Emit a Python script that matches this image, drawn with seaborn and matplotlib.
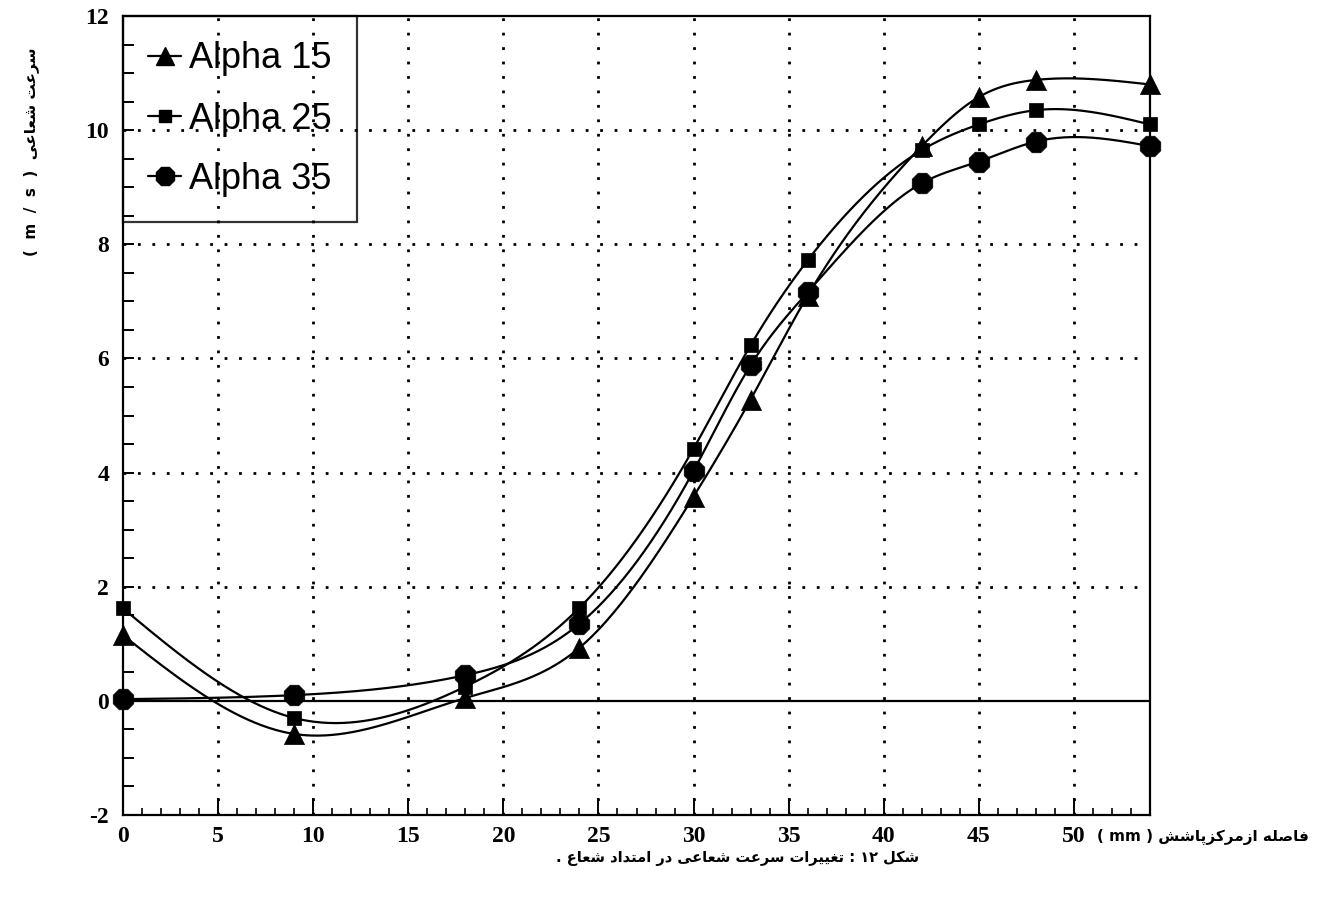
import re
import numpy as np
import pandas as pd
import matplotlib
matplotlib.use("Agg")
import matplotlib.pyplot as plt
import seaborn as sns
from matplotlib.lines import Line2D
from matplotlib.ticker import MultipleLocator
from matplotlib.font_manager import FontProperties

# ---------------- data ----------------
distance_mm = [0, 9, 18, 24, 30, 33, 36, 42, 45, 48, 54]
alpha15 = [1.15, -0.58, 0.05, 0.93, 3.58, 5.28, 7.10, 9.72, 10.58, 10.88, 10.80]
alpha25 = [1.62, -0.30, 0.25, 1.63, 4.42, 6.23, 7.72, 9.65, 10.10, 10.35, 10.10]
alpha35 = [0.03, 0.10, 0.45, 1.35, 4.03, 5.88, 7.16, 9.07, 9.45, 9.80, 9.72]
series_labels = ["Alpha 15", "Alpha 25", "Alpha 35"]
x_ticks = [0, 5, 10, 15, 20, 25, 30, 35, 40, 45, 50]
y_ticks = [-2, 0, 2, 4, 6, 8, 10, 12]

y_label_fa = "سرعت شعاعی"
y_label_unit = "(  m  /  s  )"
x_label_fa = "فاصله ازمرکزپاشش"
x_label_unit = "( mm )"
caption_fa = "شکل ۱۲ : تغییرات سرعت شعاعی در امتداد شعاع ."

# ---------------- minimal Persian shaping (presentation forms, visual order) ----------------
FORMS = {
    "ا": (0xFE8D, 0xFE8E, None, None), "آ": (0xFE81, 0xFE82, None, None),
    "ب": (0xFE8F, 0xFE90, 0xFE91, 0xFE92), "پ": (0xFB56, 0xFB57, 0xFB58, 0xFB59),
    "ت": (0xFE95, 0xFE96, 0xFE97, 0xFE98), "ث": (0xFE99, 0xFE9A, 0xFE9B, 0xFE9C),
    "ج": (0xFE9D, 0xFE9E, 0xFE9F, 0xFEA0), "چ": (0xFB7A, 0xFB7B, 0xFB7C, 0xFB7D),
    "ح": (0xFEA1, 0xFEA2, 0xFEA3, 0xFEA4), "خ": (0xFEA5, 0xFEA6, 0xFEA7, 0xFEA8),
    "د": (0xFEA9, 0xFEAA, None, None), "ذ": (0xFEAB, 0xFEAC, None, None),
    "ر": (0xFEAD, 0xFEAE, None, None), "ز": (0xFEAF, 0xFEB0, None, None),
    "ژ": (0xFB8A, 0xFB8B, None, None),
    "س": (0xFEB1, 0xFEB2, 0xFEB3, 0xFEB4), "ش": (0xFEB5, 0xFEB6, 0xFEB7, 0xFEB8),
    "ص": (0xFEB9, 0xFEBA, 0xFEBB, 0xFEBC), "ض": (0xFEBD, 0xFEBE, 0xFEBF, 0xFEC0),
    "ط": (0xFEC1, 0xFEC2, 0xFEC3, 0xFEC4), "ظ": (0xFEC5, 0xFEC6, 0xFEC7, 0xFEC8),
    "ع": (0xFEC9, 0xFECA, 0xFECB, 0xFECC), "غ": (0xFECD, 0xFECE, 0xFECF, 0xFED0),
    "ف": (0xFED1, 0xFED2, 0xFED3, 0xFED4), "ق": (0xFED5, 0xFED6, 0xFED7, 0xFED8),
    "ک": (0xFB8E, 0xFB8F, 0xFB90, 0xFB91), "گ": (0xFB92, 0xFB93, 0xFB94, 0xFB95),
    "ل": (0xFEDD, 0xFEDE, 0xFEDF, 0xFEE0), "م": (0xFEE1, 0xFEE2, 0xFEE3, 0xFEE4),
    "ن": (0xFEE5, 0xFEE6, 0xFEE7, 0xFEE8), "ه": (0xFEE9, 0xFEEA, 0xFEEB, 0xFEEC),
    "و": (0xFEED, 0xFEEE, None, None), "ی": (0xFBFC, 0xFBFD, 0xFBFE, 0xFBFF),
}


def visual(text):
    out = []
    for i, c in enumerate(text):
        if c not in FORMS:
            out.append(c)
            continue
        prev = text[i - 1] if i > 0 else None
        nxt = text[i + 1] if i + 1 < len(text) else None
        iso, fin, ini, med = FORMS[c]
        jp = prev in FORMS and FORMS[prev][2] is not None
        jn = ini is not None and nxt in FORMS
        if jp and jn:
            code = med
        elif jp:
            code = fin
        elif jn:
            code = ini
        else:
            code = iso
        out.append(chr(code))
    s = "".join(out)[::-1]
    return re.sub(r"[0-9۰-۹]+", lambda m: m.group(0)[::-1], s)


def natural_spline(x, y, xs):
    x = np.asarray(x, float)
    y = np.asarray(y, float)
    n = len(x)
    h = np.diff(x)
    A = np.zeros((n, n))
    b = np.zeros(n)
    A[0, 0] = A[-1, -1] = 1
    for i in range(1, n - 1):
        A[i, i - 1] = h[i - 1]
        A[i, i] = 2 * (h[i - 1] + h[i])
        A[i, i + 1] = h[i]
        b[i] = 6 * ((y[i + 1] - y[i]) / h[i] - (y[i] - y[i - 1]) / h[i - 1])
    M = np.linalg.solve(A, b)
    k = np.clip(np.searchsorted(x, xs) - 1, 0, n - 2)
    hk = h[k]
    a = x[k + 1] - xs
    bb = xs - x[k]
    return (M[k] * a ** 3 / (6 * hk) + M[k + 1] * bb ** 3 / (6 * hk)
            + (y[k] / hk - M[k] * hk / 6) * a + (y[k + 1] / hk - M[k + 1] * hk / 6) * bb)


# ---------------- figure ----------------
sns.set_style("ticks")
plt.rcParams["font.family"] = ["DejaVu Sans"]
for key in ["text.color", "axes.labelcolor", "xtick.color", "ytick.color", "axes.edgecolor"]:
    plt.rcParams[key] = "black"

fig = plt.figure(figsize=(13.27, 8.97), dpi=100)
ax = fig.add_axes([123 / 1327, 1 - 815 / 897, (1150 - 123) / 1327, (815 - 16) / 897])

series = [alpha15, alpha25, alpha35]
markers = ["^", "s", "8"]
msizes = [14.5, 10, 16]
leg_sizes = [13, 9, 14]

xs = np.linspace(min(distance_mm), max(distance_mm), 600)
for vals, mk, ms in zip(series, markers, msizes):
    curve = pd.DataFrame({"x": xs, "y": natural_spline(distance_mm, vals, xs)})
    sns.lineplot(data=curve, x="x", y="y", color="black", lw=1.6, ax=ax,
                 legend=False, zorder=3)
    pts = pd.DataFrame({"x": distance_mm, "y": vals})
    sns.scatterplot(data=pts, x="x", y="y", marker=mk, s=ms ** 2, color="black",
                    edgecolor="black", linewidth=0.5, ax=ax, zorder=4,
                    clip_on=False, legend=False)

ax.axhline(0, color="black", lw=1.6, zorder=2)

ax.set_xlim(0, 54)
ax.set_ylim(-2, 12)
ax.set_xticks(x_ticks)
ax.set_yticks(y_ticks)
ax.xaxis.set_minor_locator(MultipleLocator(1))
ax.yaxis.set_minor_locator(MultipleLocator(0.5))

for s in ax.spines.values():
    s.set_linewidth(1.6)
    s.set_color("black")

ax.tick_params(axis="x", which="major", direction="in", length=12, width=1.4,
               pad=8, top=False, colors="black")
ax.tick_params(axis="x", which="minor", direction="in", length=5, width=1.2, top=False)
ax.tick_params(axis="y", which="both", direction="in", length=8, width=1.4,
               pad=10, right=False, colors="black")

tick_font = FontProperties(family="Liberation Serif", weight="bold", size=17)
ax.set_xticklabels([str(t) for t in x_ticks], fontproperties=tick_font)
ax.set_yticklabels([str(t) for t in y_ticks], fontproperties=tick_font)

grid_kw = dict(color="black", lw=2.0, linestyle=(0, (1, 4.2)), zorder=1)
for t in x_ticks[1:]:
    ax.axvline(t, **grid_kw)
for t in [2, 4, 6, 8, 10]:
    ax.axhline(t, **grid_kw)

ax.set_xlabel("")
ax.set_ylabel("")

handles = [Line2D([], [], color="black", lw=1.6, marker=mk, markersize=ms)
           for mk, ms in zip(markers, leg_sizes)]
leg = ax.legend(handles, series_labels, loc="upper left", bbox_to_anchor=(0, 1),
                borderaxespad=0, prop=FontProperties(family="Liberation Sans", size=26),
                frameon=True, fancybox=False, edgecolor="black", facecolor="none",
                handlelength=0.9, handletextpad=0.22, labelspacing=0.7,
                borderpad=0.7, labelcolor="black")
leg.get_frame().set_linewidth(1.6)
leg.set_zorder(5)

fa_font = dict(family="DejaVu Sans", weight="bold", color="black")
fig.text(31 / 1327, 1 - 152 / 897, y_label_unit + "  " + visual(y_label_fa),
         rotation=90, ha="center", va="center", fontsize=11, **fa_font)
fig.text(1097 / 1327, 1 - 837 / 897, x_label_unit + " " + visual(x_label_fa),
         ha="left", va="center", fontsize=11, **fa_font)
fig.text(738 / 1327, 1 - 858 / 897, visual(caption_fa),
         ha="center", va="center", fontsize=10.5, **fa_font)

fig.savefig("out.png", dpi=100)
